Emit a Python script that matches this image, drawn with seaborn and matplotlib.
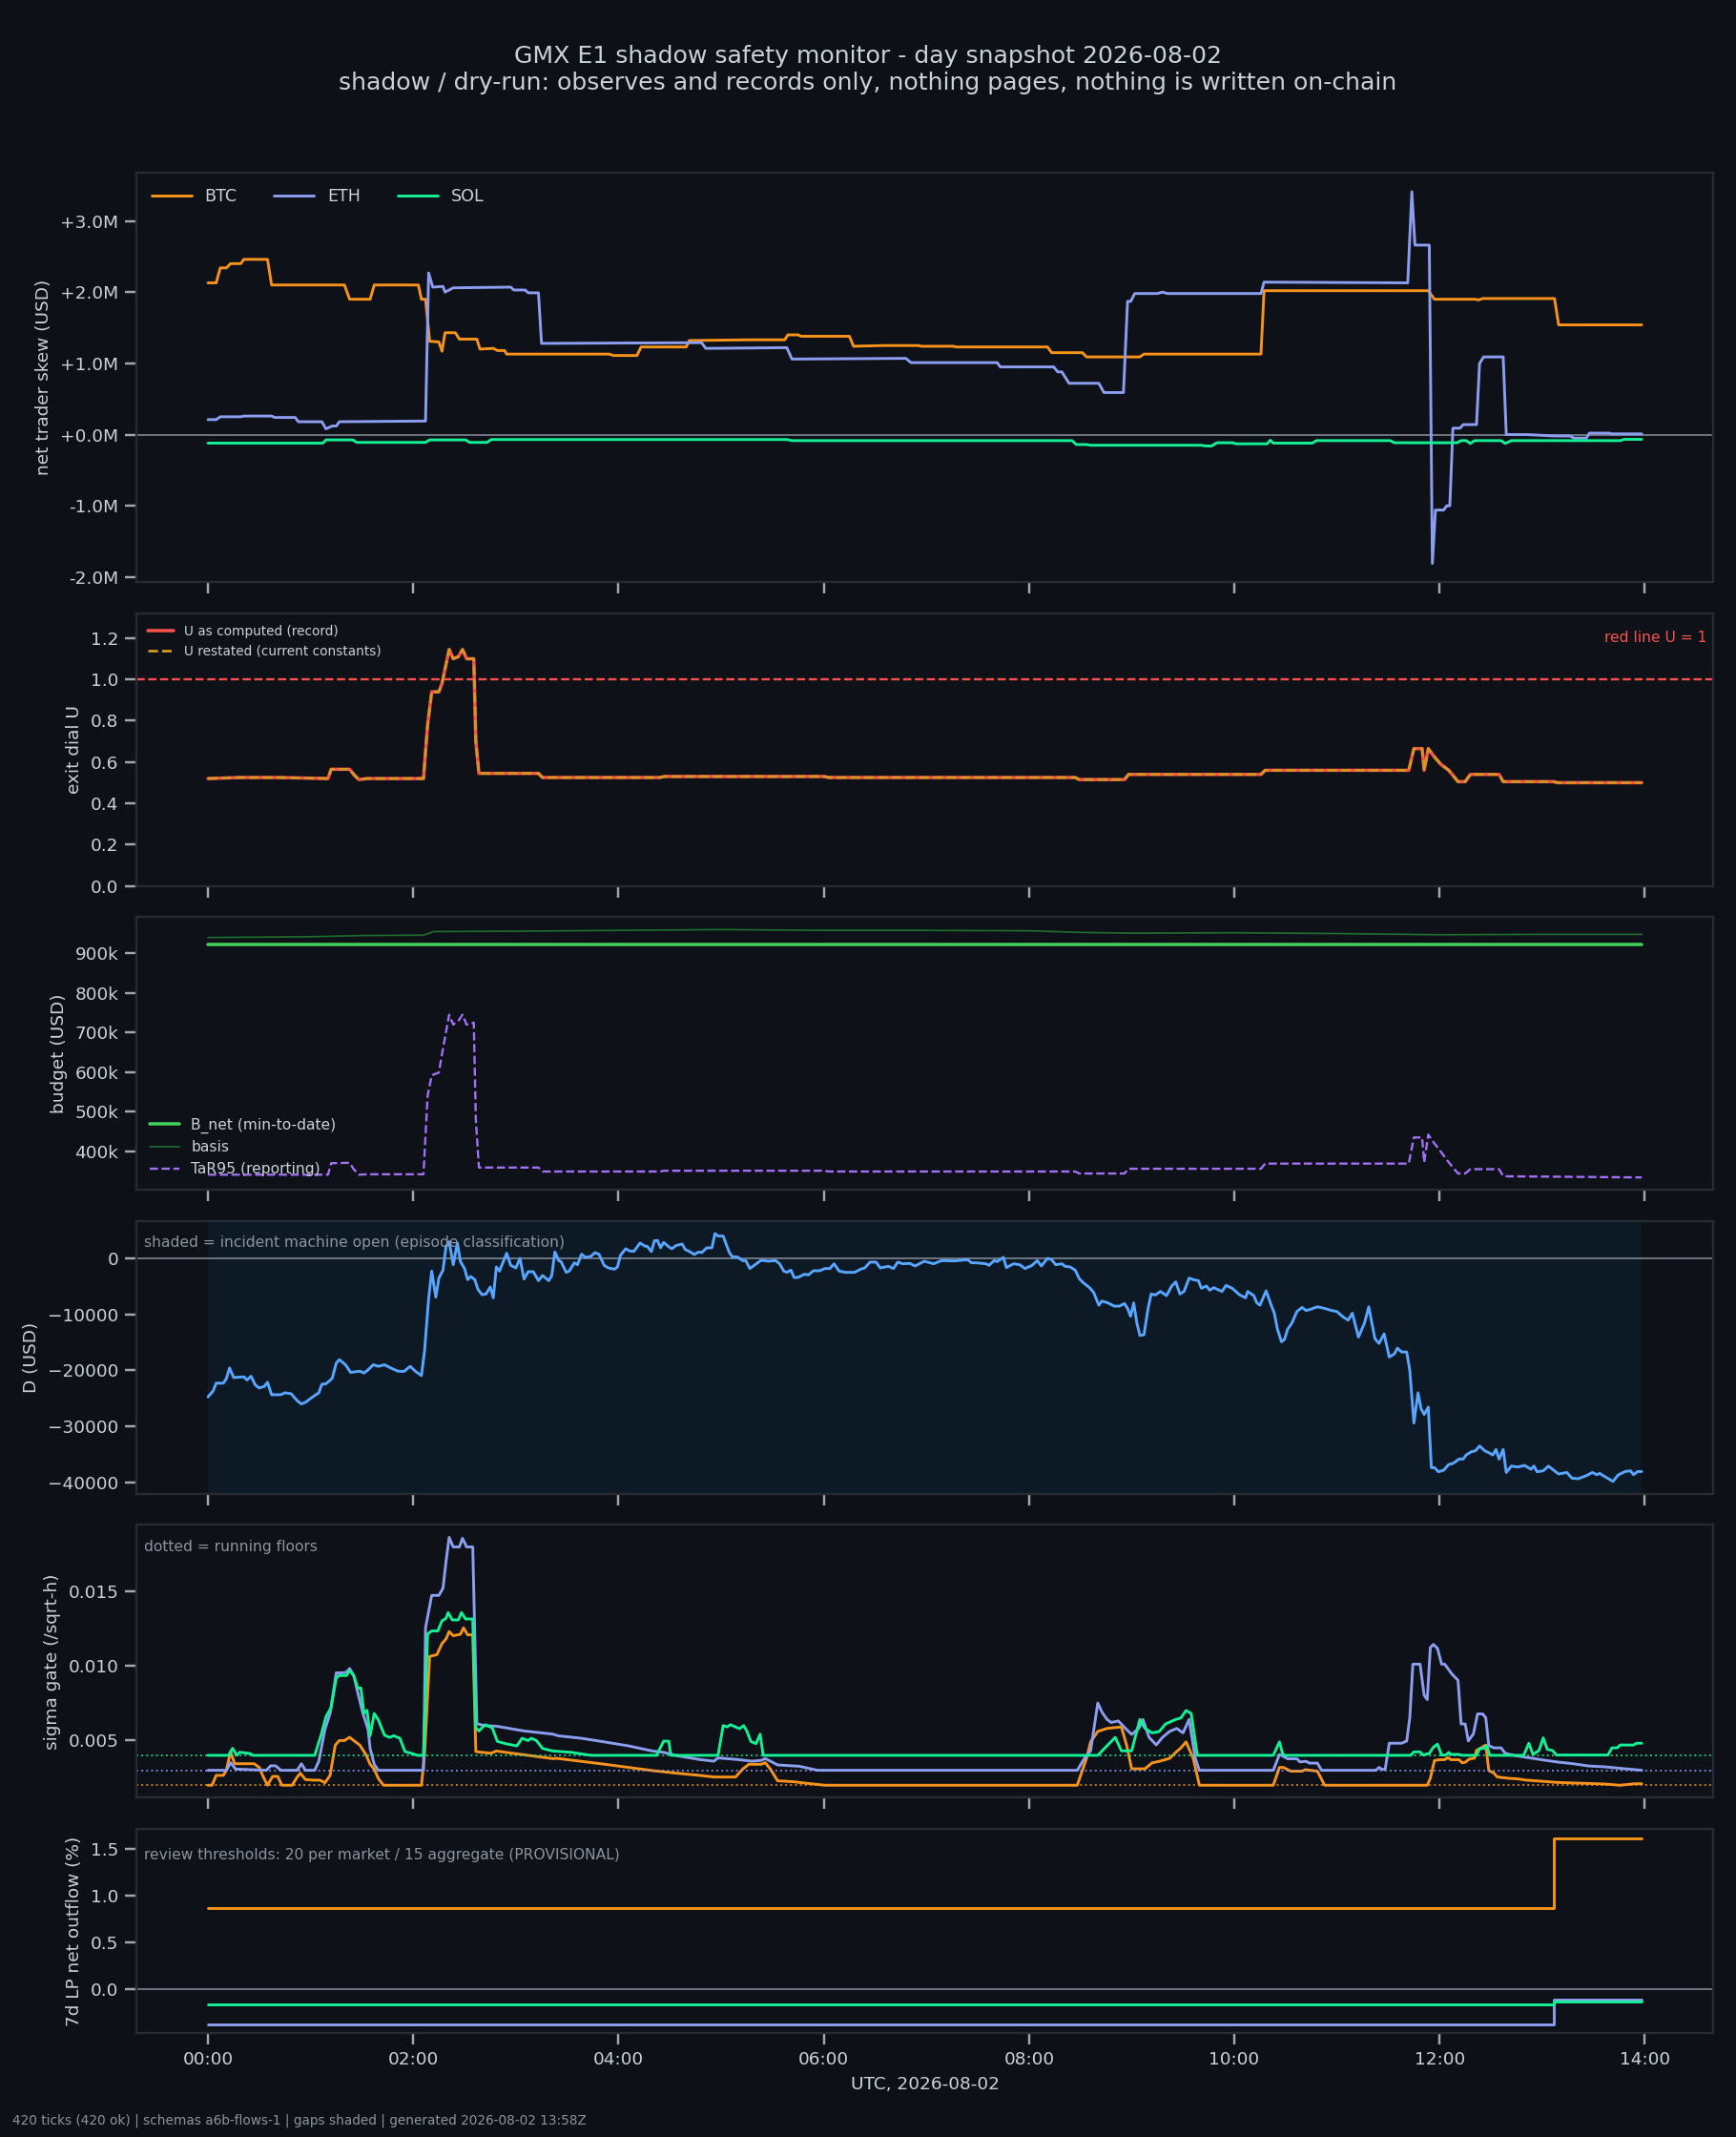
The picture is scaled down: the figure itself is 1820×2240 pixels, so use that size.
import seaborn as sns
import matplotlib.pyplot as plt
from matplotlib.ticker import MultipleLocator, FuncFormatter

# values; time in hours UTC on 2026-08-02 (last tick 13:58)
# panel 1: net trader skew, millions USD, (hour, value)
skew_btc = [(0.00, 2.13), (0.08, 2.13), (0.12, 2.34), (0.18, 2.34), (0.22, 2.40), (0.32, 2.40),
            (0.35, 2.46), (0.58, 2.46), (0.62, 2.10), (1.33, 2.10), (1.38, 1.90), (1.58, 1.90),
            (1.62, 2.10), (2.05, 2.10), (2.08, 1.90), (2.12, 1.90), (2.16, 1.31), (2.25, 1.30),
            (2.28, 1.17), (2.31, 1.43), (2.41, 1.43), (2.45, 1.34), (2.62, 1.34), (2.65, 1.20),
            (2.78, 1.21), (2.82, 1.18), (2.89, 1.18), (2.91, 1.13), (3.91, 1.13), (3.95, 1.11),
            (4.18, 1.11), (4.22, 1.23), (4.66, 1.23), (4.69, 1.32), (5.26, 1.33), (5.62, 1.33),
            (5.65, 1.40), (5.75, 1.40), (5.78, 1.38), (6.25, 1.38), (6.29, 1.24), (6.59, 1.25),
            (6.92, 1.25), (6.95, 1.24), (7.26, 1.24), (7.29, 1.23), (8.18, 1.23), (8.22, 1.15),
            (8.52, 1.15), (8.56, 1.09), (9.08, 1.09), (9.12, 1.13), (10.26, 1.13), (10.29, 2.02),
            (11.89, 2.02), (11.95, 1.90), (12.35, 1.90), (12.38, 1.89), (12.42, 1.91), (13.12, 1.91),
            (13.16, 1.54), (13.97, 1.54)]
skew_eth = [(0.00, 0.21), (0.08, 0.21), (0.12, 0.25), (0.32, 0.25), (0.35, 0.26), (0.62, 0.26),
            (0.65, 0.24), (0.85, 0.24), (0.88, 0.18), (1.11, 0.18), (1.15, 0.08), (1.21, 0.12),
            (1.25, 0.12), (1.28, 0.18), (2.12, 0.19), (2.15, 2.27), (2.19, 2.07), (2.29, 2.08),
            (2.31, 2.00), (2.39, 2.06), (2.95, 2.07), (2.98, 2.03), (3.09, 2.03), (3.12, 1.99),
            (3.22, 1.99), (3.25, 1.28), (4.81, 1.29), (4.85, 1.21), (5.64, 1.22), (5.69, 1.06),
            (6.80, 1.07), (6.85, 1.01), (7.69, 1.01), (7.72, 0.95), (8.24, 0.95), (8.28, 0.88),
            (8.32, 0.88), (8.39, 0.72), (8.68, 0.72), (8.73, 0.59), (8.92, 0.59), (8.96, 1.87),
            (8.99, 1.87), (9.03, 1.98), (9.25, 1.98), (9.30, 2.00), (9.35, 1.98), (10.26, 1.98),
            (10.29, 2.14), (11.69, 2.13), (11.73, 3.41), (11.76, 2.66), (11.90, 2.66), (11.93, -1.81),
            (11.96, -1.06), (12.04, -1.06), (12.07, -1.00), (12.10, -1.00), (12.13, 0.09), (12.20, 0.09),
            (12.23, 0.14), (12.36, 0.14), (12.39, 1.00), (12.43, 1.09), (12.62, 1.09), (12.65, 0.00),
            (12.85, 0.00), (13.12, -0.02), (13.27, -0.02), (13.31, -0.05), (13.43, -0.05), (13.46, 0.02),
            (13.65, 0.02), (13.68, 0.01), (13.97, 0.01)]
skew_sol = [(0.00, -0.12), (1.12, -0.12), (1.15, -0.075), (1.41, -0.075), (1.45, -0.11), (2.12, -0.11),
            (2.16, -0.075), (2.51, -0.075), (2.55, -0.11), (2.72, -0.11), (2.76, -0.07), (5.64, -0.07),
            (5.69, -0.085), (8.42, -0.085), (8.46, -0.14), (8.56, -0.14), (8.60, -0.15), (9.68, -0.15),
            (9.72, -0.16), (9.78, -0.16), (9.83, -0.115), (9.98, -0.115), (10.02, -0.13), (10.32, -0.13),
            (10.35, -0.08), (10.38, -0.12), (10.76, -0.12), (10.80, -0.085), (11.52, -0.085),
            (11.56, -0.115), (12.17, -0.115), (12.21, -0.085), (12.26, -0.085), (12.30, -0.125),
            (12.34, -0.085), (12.60, -0.085), (12.64, -0.125), (12.70, -0.085), (13.76, -0.085),
            (13.80, -0.067), (13.97, -0.067)]

# panel 2: exit dial U (record and restatement coincide)
exit_u = [(0.00, 0.52), (0.30, 0.525), (0.70, 0.525), (1.17, 0.52), (1.20, 0.565), (1.38, 0.565),
          (1.42, 0.54), (1.47, 0.515), (1.55, 0.52), (2.10, 0.52), (2.14, 0.78), (2.18, 0.94),
          (2.25, 0.94), (2.28, 0.98), (2.35, 1.145), (2.39, 1.10), (2.44, 1.11), (2.48, 1.145),
          (2.52, 1.10), (2.59, 1.10), (2.61, 0.70), (2.64, 0.545), (3.22, 0.545), (3.26, 0.525),
          (4.40, 0.525), (4.45, 0.53), (6.00, 0.53), (6.05, 0.525), (8.45, 0.525), (8.49, 0.515),
          (8.93, 0.515), (8.97, 0.54), (10.26, 0.54), (10.30, 0.56), (11.70, 0.56), (11.75, 0.665),
          (11.83, 0.665), (11.85, 0.56), (11.89, 0.665), (11.95, 0.625), (12.01, 0.59), (12.09, 0.56),
          (12.18, 0.505), (12.25, 0.505), (12.30, 0.54), (12.58, 0.54), (12.62, 0.505), (13.11, 0.505),
          (13.15, 0.50), (13.97, 0.50)]
red_line_u = 1.0

# panel 3: budget, thousands USD
b_net = [(0.00, 923), (13.97, 923)]
basis = [(0.0, 940), (1.0, 942), (1.5, 945), (2.1, 946), (2.2, 955), (3.0, 956), (4.0, 958),
         (5.0, 960), (6.0, 958), (7.0, 958), (8.0, 957), (8.5, 953), (9.0, 951), (10.0, 952),
         (11.0, 950), (12.0, 947), (13.0, 948), (13.97, 948)]
tar95 = [(0.00, 341), (1.17, 341), (1.20, 370), (1.38, 371), (1.42, 355), (1.47, 341), (1.55, 342),
         (2.10, 342), (2.14, 540), (2.18, 592), (2.25, 599), (2.28, 645), (2.35, 745), (2.39, 720),
         (2.44, 730), (2.48, 745), (2.52, 720), (2.59, 725), (2.61, 480), (2.64, 359), (3.22, 359),
         (3.26, 349), (4.40, 349), (4.45, 351), (6.00, 351), (6.05, 349), (8.45, 349), (8.49, 344),
         (8.93, 344), (8.97, 356), (10.26, 356), (10.30, 369), (11.70, 369), (11.75, 435), (11.83, 435),
         (11.85, 372), (11.89, 442), (11.95, 420), (12.01, 400), (12.09, 372), (12.18, 344), (12.25, 344),
         (12.30, 355), (12.58, 355), (12.62, 337), (13.11, 336), (13.97, 334)]

# panel 4: D, USD
d_usd = [(0.00, -24760), (0.05, -23700), (0.08, -22300), (0.15, -22300), (0.18, -21460), (0.21, -19580),
         (0.25, -21290), (0.35, -21170), (0.38, -21740), (0.42, -21060), (0.46, -22600), (0.50, -23160),
         (0.55, -22880), (0.58, -22140), (0.62, -24360), (0.71, -24360), (0.75, -24020), (0.81, -24190),
         (0.87, -25440), (0.91, -26010), (0.95, -25720), (1.02, -24760), (1.08, -24020), (1.11, -22480),
         (1.15, -22420), (1.21, -21460), (1.25, -18720), (1.28, -18100), (1.34, -19010), (1.39, -20380),
         (1.48, -20150), (1.52, -20490), (1.56, -19920), (1.61, -19010), (1.66, -19290), (1.72, -19010),
         (1.78, -19580), (1.85, -20150), (1.91, -20210), (1.97, -19290), (2.02, -20150), (2.08, -20950),
         (2.11, -16620), (2.15, -7230), (2.18, -2280), (2.22, -6940), (2.25, -3530), (2.29, -2110),
         (2.32, 2160), (2.35, 2960), (2.39, -1140), (2.43, 2730), (2.46, -570), (2.50, -1820),
         (2.53, -3810), (2.56, -3240), (2.60, -3810), (2.63, -5520), (2.67, -6490), (2.71, -6370),
         (2.75, -5120), (2.78, -7060), (2.81, -1540), (2.84, -2280), (2.91, 910), (2.95, -1250),
         (3.00, -1710), (3.04, 0), (3.08, -3700), (3.12, -2390), (3.17, -2390), (3.22, -3980),
         (3.26, -3070), (3.32, -3980), (3.35, -3070), (3.38, 1140), (3.42, -460), (3.44, -570),
         (3.49, -2500), (3.52, -2280), (3.57, -800), (3.60, -1140), (3.64, 740), (3.68, 170),
         (3.73, 340), (3.77, 1020), (3.81, 740), (3.86, -1250), (3.90, -1710), (3.96, -1940),
         (3.99, -1540), (4.02, 570), (4.07, 1710), (4.11, 1310), (4.15, 1250), (4.21, 2730),
         (4.26, 2160), (4.28, 2160), (4.32, 1200), (4.35, 3130), (4.38, 3190), (4.41, 1880),
         (4.44, 2850), (4.49, 2050), (4.52, 1710), (4.56, 2280), (4.62, 2560), (4.65, 1590),
         (4.70, 1140), (4.74, 680), (4.78, 1140), (4.81, 1020), (4.86, 1880), (4.91, 1880),
         (4.94, 4440), (4.97, 3980), (5.02, 3980), (5.08, 1020), (5.11, 280), (5.16, 230),
         (5.21, -400), (5.24, -400), (5.28, -1820), (5.33, -1140), (5.39, -340), (5.46, -510),
         (5.53, -400), (5.57, -970), (5.61, -2280), (5.64, -2500), (5.68, -2110), (5.71, -3410),
         (5.75, -3410), (5.81, -2850), (5.85, -2960), (5.90, -2220), (5.96, -2220), (6.01, -1820),
         (6.06, -1820), (6.10, -970), (6.15, -2280), (6.21, -2500), (6.30, -2500), (6.36, -1940),
         (6.40, -1710), (6.45, -680), (6.51, -680), (6.55, -1710), (6.63, -1420), (6.68, -1820),
         (6.72, -680), (6.77, -970), (6.84, -910), (6.89, -1370), (6.98, -510), (7.07, -970),
         (7.15, -400), (7.28, -460), (7.40, -230), (7.44, -800), (7.49, -800), (7.58, -970),
         (7.61, -1250), (7.66, -400), (7.69, -570), (7.75, 170), (7.78, -1650), (7.85, -970),
         (7.91, -1140), (7.96, -1820), (8.03, -1250), (8.08, -400), (8.12, -1370), (8.18, 0),
         (8.22, -230), (8.26, -1140), (8.32, -970), (8.35, -1420), (8.40, -1540), (8.45, -2110),
         (8.49, -3640), (8.53, -4380), (8.59, -5240), (8.63, -6090), (8.68, -8370), (8.71, -7630),
         (8.77, -7970), (8.83, -8540), (8.88, -8540), (8.93, -8080), (8.96, -8940), (8.99, -10360),
         (9.02, -7970), (9.05, -11500), (9.08, -13770), (9.12, -13660), (9.16, -8940), (9.19, -6370),
         (9.23, -6550), (9.28, -5920), (9.34, -6660), (9.39, -4950), (9.43, -4210), (9.47, -6370),
         (9.51, -5920), (9.56, -3530), (9.60, -3810), (9.65, -3980), (9.68, -5350), (9.73, -4950),
         (9.76, -5690), (9.80, -5240), (9.88, -5920), (9.92, -4840), (9.98, -5350), (10.05, -6490),
         (10.11, -7060), (10.13, -5920), (10.19, -6660), (10.22, -7970), (10.25, -8370), (10.31, -5810),
         (10.36, -8370), (10.39, -9790), (10.42, -12640), (10.46, -14910), (10.49, -14460),
         (10.52, -12640), (10.56, -11610), (10.61, -9500), (10.66, -8770), (10.70, -9330),
         (10.75, -9050), (10.81, -8650), (10.88, -8940), (10.95, -9330), (11.00, -9500),
         (11.06, -10470), (11.11, -11040), (11.15, -9790), (11.21, -14060), (11.27, -11500),
         (11.31, -8650), (11.37, -14340), (11.41, -15200), (11.46, -13490), (11.51, -17640),
         (11.56, -17070), (11.59, -16050), (11.63, -16730), (11.68, -16730), (11.71, -20030),
         (11.75, -29430), (11.79, -24020), (11.82, -26870), (11.85, -27890), (11.89, -26580),
         (11.92, -37390), (11.95, -37390), (11.99, -38130), (12.04, -37850), (12.09, -36820),
         (12.13, -36650), (12.19, -35860), (12.23, -35860), (12.26, -35120), (12.31, -34550),
         (12.35, -34380), (12.39, -33520), (12.44, -34380), (12.48, -34720), (12.52, -35120),
         (12.55, -34150), (12.58, -35860), (12.62, -34150), (12.65, -38250), (12.70, -37110),
         (12.76, -37280), (12.83, -37000), (12.89, -37680), (12.92, -37110), (12.95, -38130),
         (13.01, -37960), (13.06, -37110), (13.10, -37680), (13.16, -38530), (13.24, -38250),
         (13.29, -39270), (13.35, -39380), (13.43, -38820), (13.49, -38250), (13.53, -38650),
         (13.56, -38420), (13.62, -39100), (13.69, -39840), (13.74, -38700), (13.81, -38080),
         (13.86, -37960), (13.89, -38650), (13.93, -38080), (13.97, -38080)]
incident_open = (0.0, 13.97)

# panel 5: sigma gate per market, /sqrt-h
sigma_btc = [(0.00, 0.0020), (0.04, 0.0020), (0.08, 0.00266), (0.15, 0.00266), (0.18, 0.00302),
             (0.22, 0.00425), (0.26, 0.00344), (0.45, 0.00344), (0.50, 0.00319), (0.54, 0.00255),
             (0.58, 0.0020), (0.63, 0.00259), (0.68, 0.00259), (0.72, 0.0020), (0.82, 0.0020),
             (0.87, 0.00255), (0.90, 0.00281), (0.95, 0.00238), (1.03, 0.00234), (1.09, 0.00234),
             (1.14, 0.00217), (1.19, 0.00266), (1.24, 0.00468), (1.28, 0.00499), (1.33, 0.00499),
             (1.38, 0.00521), (1.42, 0.00499), (1.48, 0.00468), (1.54, 0.00404), (1.58, 0.0034),
             (1.62, 0.00308), (1.66, 0.00245), (1.71, 0.0020), (2.08, 0.0020), (2.11, 0.00404),
             (2.16, 0.01062), (2.23, 0.01073), (2.28, 0.01147), (2.32, 0.01179), (2.35, 0.01228),
             (2.39, 0.0120), (2.46, 0.0121), (2.49, 0.01253), (2.53, 0.01206), (2.58, 0.01206),
             (2.61, 0.00425), (2.67, 0.0042), (2.76, 0.00414), (2.81, 0.00429), (2.90, 0.0042),
             (3.36, 0.00378), (3.40, 0.0038), (3.87, 0.0034), (4.10, 0.00319), (4.33, 0.00298),
             (4.56, 0.00281), (4.79, 0.00266), (4.93, 0.00255), (5.14, 0.00255), (5.21, 0.00308),
             (5.27, 0.0034), (5.39, 0.0034), (5.43, 0.00351), (5.48, 0.00308), (5.55, 0.0023),
             (5.71, 0.00223), (5.81, 0.00215), (6.01, 0.0020), (8.47, 0.0020), (8.56, 0.0038),
             (8.60, 0.0049), (8.67, 0.0056), (8.76, 0.0058), (8.90, 0.0059), (8.95, 0.0047),
             (9.00, 0.0031), (9.13, 0.0031), (9.20, 0.0035), (9.27, 0.0036), (9.37, 0.0038),
             (9.43, 0.0042), (9.48, 0.0045), (9.53, 0.0049), (9.60, 0.0038), (9.66, 0.0020),
             (10.38, 0.0020), (10.44, 0.00319), (10.48, 0.00319), (10.55, 0.00294), (10.66, 0.00294),
             (10.69, 0.00304), (10.81, 0.00294), (10.88, 0.0020), (11.88, 0.0020), (11.91, 0.00246),
             (11.95, 0.00365), (12.00, 0.00371), (12.05, 0.00371), (12.08, 0.00385), (12.11, 0.00371),
             (12.19, 0.00371), (12.22, 0.0035), (12.25, 0.00354), (12.29, 0.00375), (12.34, 0.00381),
             (12.36, 0.00433), (12.40, 0.00448), (12.45, 0.00469), (12.48, 0.00298), (12.53, 0.00281),
             (12.56, 0.00256), (12.60, 0.00252), (12.68, 0.00246), (12.77, 0.00242), (12.83, 0.00235),
             (12.99, 0.00227), (13.14, 0.00219), (13.30, 0.00215), (13.45, 0.00212), (13.61, 0.00208),
             (13.76, 0.0020), (13.90, 0.0021), (13.97, 0.0021)]
sigma_eth = [(0.00, 0.0030), (0.18, 0.0030), (0.22, 0.00351), (0.27, 0.00308), (0.57, 0.0030),
             (0.61, 0.0033), (0.66, 0.0033), (0.71, 0.0030), (0.87, 0.0030), (0.91, 0.00344),
             (0.95, 0.0030), (1.04, 0.0030), (1.08, 0.00361), (1.14, 0.00574), (1.19, 0.0068),
             (1.25, 0.00952), (1.31, 0.00952), (1.35, 0.00956), (1.38, 0.00981), (1.42, 0.00935),
             (1.46, 0.00818), (1.51, 0.0068), (1.56, 0.00574), (1.58, 0.00446), (1.62, 0.0034),
             (1.66, 0.0030), (2.10, 0.0030), (2.12, 0.01253), (2.18, 0.0147), (2.25, 0.0147),
             (2.29, 0.01518), (2.32, 0.01699), (2.35, 0.01858), (2.39, 0.01794), (2.45, 0.01794),
             (2.48, 0.01852), (2.52, 0.01794), (2.58, 0.01794), (2.62, 0.00612), (2.69, 0.00599),
             (2.81, 0.00595), (3.08, 0.00563), (3.36, 0.00542), (3.41, 0.00531), (3.64, 0.00514),
             (3.87, 0.00489), (4.10, 0.00463), (4.33, 0.00429), (4.44, 0.0042), (4.56, 0.00399),
             (4.79, 0.00372), (4.93, 0.00361), (4.97, 0.00383), (5.16, 0.00372), (5.30, 0.00361),
             (5.39, 0.00366), (5.43, 0.00378), (5.48, 0.00361), (5.55, 0.00336), (5.76, 0.00327),
             (5.94, 0.0030), (8.47, 0.0030), (8.54, 0.0038), (8.60, 0.0043), (8.67, 0.0075),
             (8.71, 0.0069), (8.76, 0.0064), (8.80, 0.0062), (8.87, 0.0063), (8.94, 0.0058),
             (9.00, 0.0054), (9.07, 0.0058), (9.11, 0.0064), (9.17, 0.0052), (9.24, 0.0047),
             (9.30, 0.0052), (9.37, 0.0056), (9.44, 0.0058), (9.50, 0.0055), (9.56, 0.0064),
             (9.62, 0.0038), (9.66, 0.0030), (10.38, 0.0030), (10.44, 0.00406), (10.48, 0.00392),
             (10.52, 0.00377), (10.61, 0.00377), (10.64, 0.00356), (10.70, 0.0036), (10.73, 0.00348),
             (10.81, 0.00348), (10.85, 0.0030), (11.38, 0.0030), (11.41, 0.00319), (11.44, 0.00306),
             (11.47, 0.00306), (11.51, 0.00481), (11.63, 0.00481), (11.68, 0.00496), (11.71, 0.00652),
             (11.74, 0.0101), (11.81, 0.0101), (11.85, 0.00802), (11.88, 0.00773), (11.91, 0.01121),
             (11.94, 0.01142), (11.98, 0.01115), (12.02, 0.0101), (12.05, 0.0101), (12.12, 0.00944),
             (12.18, 0.00902), (12.21, 0.0061), (12.25, 0.0061), (12.28, 0.00496), (12.33, 0.00544),
             (12.37, 0.00677), (12.42, 0.00677), (12.45, 0.00652), (12.48, 0.00465), (12.53, 0.0045),
             (12.60, 0.0045), (12.64, 0.00413), (12.74, 0.00398), (12.99, 0.00371), (13.14, 0.00356),
             (13.30, 0.00344), (13.45, 0.00329), (13.61, 0.00323), (13.76, 0.00313), (13.97, 0.0030)]
sigma_sol = [(0.00, 0.0040), (0.20, 0.0040), (0.24, 0.00447), (0.28, 0.0040), (0.31, 0.00421),
             (0.41, 0.00412), (0.44, 0.0040), (1.04, 0.0040), (1.10, 0.00531), (1.15, 0.00659),
             (1.20, 0.0072), (1.25, 0.00917), (1.28, 0.00934), (1.35, 0.00934), (1.38, 0.00966),
             (1.42, 0.00934), (1.46, 0.0085), (1.49, 0.0085), (1.52, 0.0068), (1.55, 0.00701),
             (1.58, 0.00531), (1.62, 0.0068), (1.66, 0.00637), (1.72, 0.00535), (1.77, 0.0052),
             (1.81, 0.00531), (1.87, 0.00514), (1.92, 0.00425), (1.98, 0.00414), (2.04, 0.0040),
             (2.10, 0.0040), (2.14, 0.01211), (2.18, 0.01232), (2.24, 0.01232), (2.28, 0.0130),
             (2.32, 0.01317), (2.34, 0.01355), (2.38, 0.01306), (2.44, 0.01306), (2.47, 0.01355),
             (2.51, 0.01312), (2.58, 0.01312), (2.61, 0.00584), (2.64, 0.00563), (2.70, 0.00605),
             (2.77, 0.00584), (2.82, 0.00493), (2.90, 0.00478), (3.01, 0.00463), (3.06, 0.00514),
             (3.12, 0.00499), (3.15, 0.00514), (3.20, 0.00499), (3.26, 0.00446), (3.36, 0.00429),
             (3.54, 0.0042), (3.73, 0.0040), (4.37, 0.0040), (4.44, 0.00495), (4.49, 0.00495),
             (4.51, 0.0040), (4.97, 0.0040), (5.02, 0.00599), (5.06, 0.0059), (5.09, 0.00605),
             (5.18, 0.00578), (5.22, 0.00599), (5.25, 0.00563), (5.29, 0.00493), (5.34, 0.00478),
             (5.38, 0.00542), (5.41, 0.0040), (8.67, 0.0040), (8.74, 0.0045), (8.84, 0.0052),
             (8.90, 0.0043), (9.00, 0.0043), (9.08, 0.0064), (9.13, 0.0058), (9.20, 0.0055),
             (9.27, 0.0056), (9.33, 0.0061), (9.43, 0.0064), (9.48, 0.0065), (9.53, 0.0070),
             (9.58, 0.0068), (9.64, 0.0040), (10.38, 0.0040), (10.44, 0.0049), (10.47, 0.00413),
             (10.49, 0.0040), (11.72, 0.0040), (11.75, 0.00423), (11.81, 0.00423), (11.84, 0.00402),
             (11.90, 0.00413), (11.94, 0.00454), (11.98, 0.00475), (12.02, 0.00402), (12.06, 0.00402),
             (12.09, 0.00419), (12.11, 0.00406), (12.19, 0.00406), (12.22, 0.0040), (12.36, 0.0040),
             (12.39, 0.00444), (12.44, 0.00448), (12.46, 0.00465), (12.49, 0.0040), (12.82, 0.0040),
             (12.87, 0.00481), (12.91, 0.00406), (12.97, 0.00433), (13.01, 0.00517), (13.05, 0.0044),
             (13.10, 0.00433), (13.14, 0.00402), (13.64, 0.00402), (13.68, 0.0045), (13.73, 0.0045),
             (13.76, 0.00469), (13.89, 0.00469), (13.92, 0.00481), (13.97, 0.00481)]
sigma_floors = [0.0020, 0.0030, 0.0040]  # BTC, ETH, SOL running floors

# panel 6: 7d LP net outflow (%), step series
lp_hours = [0.0, 13.11, 13.97]
lp_btc = [0.87, 1.62, 1.62]
lp_eth = [-0.38, -0.12, -0.12]
lp_sol = [-0.17, -0.14, -0.14]

markets = ["BTC", "ETH", "SOL"]
market_colors = ["#f7931a", "#8c9ef0", "#14f195"]

BG = "#0d1117"
FG = "#c9d1d9"
MUTED = "#8b949e"
ZERO = "#6e7681"
RED = "#f85149"

sns.set_theme(style="dark", rc={
    "figure.facecolor": BG, "axes.facecolor": "#0e1118", "axes.edgecolor": "#272c34",
    "axes.labelcolor": FG, "text.color": FG, "xtick.color": "#a0a8b0", "ytick.color": "#a0a8b0",
    "xtick.labelcolor": FG, "ytick.labelcolor": FG, "axes.grid": False,
    "xtick.bottom": True, "ytick.left": True, "axes.linewidth": 1.2,
    "xtick.labelsize": 9.5, "ytick.labelsize": 9.5, "axes.labelsize": 9.5,
})
plt.rcParams["font.family"] = ["DejaVu Sans"]


def draw(ax, pts, **kw):
    t, v = zip(*pts)
    sns.lineplot(x=list(t), y=list(v), ax=ax, estimator=None, **kw)


fig, axes = plt.subplots(6, 1, figsize=(13, 16), sharex=True,
                         gridspec_kw={"height_ratios": [1.5, 1, 1, 1, 1, 0.75]})
fig.subplots_adjust(left=0.0785, right=0.987, top=0.919, bottom=0.0485, hspace=0.11)

# 1. skew
ax = axes[0]
ax.axhline(0, color=ZERO, lw=1, zorder=1)
for name, pts, c in zip(markets, [skew_btc, skew_eth, skew_sol], market_colors):
    draw(ax, pts, color=c, lw=1.5, label=name)
ax.yaxis.set_major_locator(MultipleLocator(1.0))
ax.yaxis.set_major_formatter(FuncFormatter(lambda v, p: f"{v:+.1f}M"))
ax.set_ylabel("net trader skew (USD)")
ax.legend(loc="upper left", ncol=3, frameon=False, fontsize=9, handlelength=2.4, columnspacing=2.2)

# 2. exit dial
ax = axes[1]
ax.axhline(red_line_u, color=RED, ls="--", lw=1.2)
draw(ax, exit_u, color=RED, lw=1.8, label="U as computed (record)")
draw(ax, exit_u, color="#d29922", lw=1.4, ls="--", label="U restated (current constants)")
ax.set_ylim(0, 1.32)
ax.yaxis.set_major_locator(MultipleLocator(0.2))
ax.set_ylabel("exit dial U")
ax.text(0.996, 0.91, "red line U = 1", transform=ax.transAxes, ha="right", va="center",
        color=RED, fontsize=8)
ax.legend(loc="upper left", frameon=False, fontsize=7)

# 3. budget
ax = axes[2]
draw(ax, b_net, color="#44d158", lw=1.8, label="B_net (min-to-date)")
draw(ax, basis, color="#1e6b2e", lw=0.9, label="basis")
draw(ax, tar95, color="#a371f7", lw=1.2, ls="--", label="TaR95 (reporting)")
ax.yaxis.set_major_locator(MultipleLocator(100))
ax.yaxis.set_major_formatter(FuncFormatter(lambda v, p: f"{v:.0f}k"))
ax.set_ylabel("budget (USD)")
ax.legend(loc="lower left", frameon=False, fontsize=8)

# 4. D
ax = axes[3]
ax.axvspan(*incident_open, color="#0a5c8c", alpha=0.12, lw=0)
ax.axhline(0, color=ZERO, lw=1, zorder=1)
draw(ax, d_usd, color="#58a6ff", lw=1.5)
ax.set_ylabel("D (USD)")
ax.text(0.005, 0.92, "shaded = incident machine open (episode classification)",
        transform=ax.transAxes, va="center", color=MUTED, fontsize=8)

# 5. sigma gate
ax = axes[4]
for pts, floor, c in zip([sigma_btc, sigma_eth, sigma_sol], sigma_floors, market_colors):
    ax.axhline(floor, color=c, ls=":", lw=1, alpha=0.8)
    draw(ax, pts, color=c, lw=1.5)
ax.yaxis.set_major_locator(MultipleLocator(0.005))
ax.set_ylabel("sigma gate (/sqrt-h)")
ax.text(0.005, 0.92, "dotted = running floors", transform=ax.transAxes, va="center",
        color=MUTED, fontsize=8)

# 6. LP outflow
ax = axes[5]
ax.axhline(0, color=ZERO, lw=1, zorder=1)
for vals, c in zip([lp_btc, lp_eth, lp_sol], market_colors):
    sns.lineplot(x=lp_hours, y=vals, ax=ax, color=c, lw=1.5, drawstyle="steps-post", estimator=None)
ax.yaxis.set_major_locator(MultipleLocator(0.5))
ax.set_ylabel("7d LP net outflow (%)")
ax.text(0.005, 0.873, "review thresholds: 20 per market / 15 aggregate (PROVISIONAL)",
        transform=ax.transAxes, va="center", color=MUTED, fontsize=8)

ax.xaxis.set_major_locator(MultipleLocator(2))
ax.xaxis.set_major_formatter(FuncFormatter(lambda v, p: f"{int(round(v)):02d}:00"))
ax.set_xlabel("UTC, 2026-08-02")

fig.suptitle("GMX E1 shadow safety monitor - day snapshot 2026-08-02\n"
             "shadow / dry-run: observes and records only, nothing pages, nothing is written on-chain",
             y=0.979, fontsize=12.9, color=FG)
fig.text(0.007, 0.006, "420 ticks (420 ok) | schemas a6b-flows-1 | gaps shaded | generated 2026-08-02 13:58Z",
         fontsize=7, color=MUTED)

plt.savefig("out.png", dpi=140, facecolor=fig.get_facecolor())
